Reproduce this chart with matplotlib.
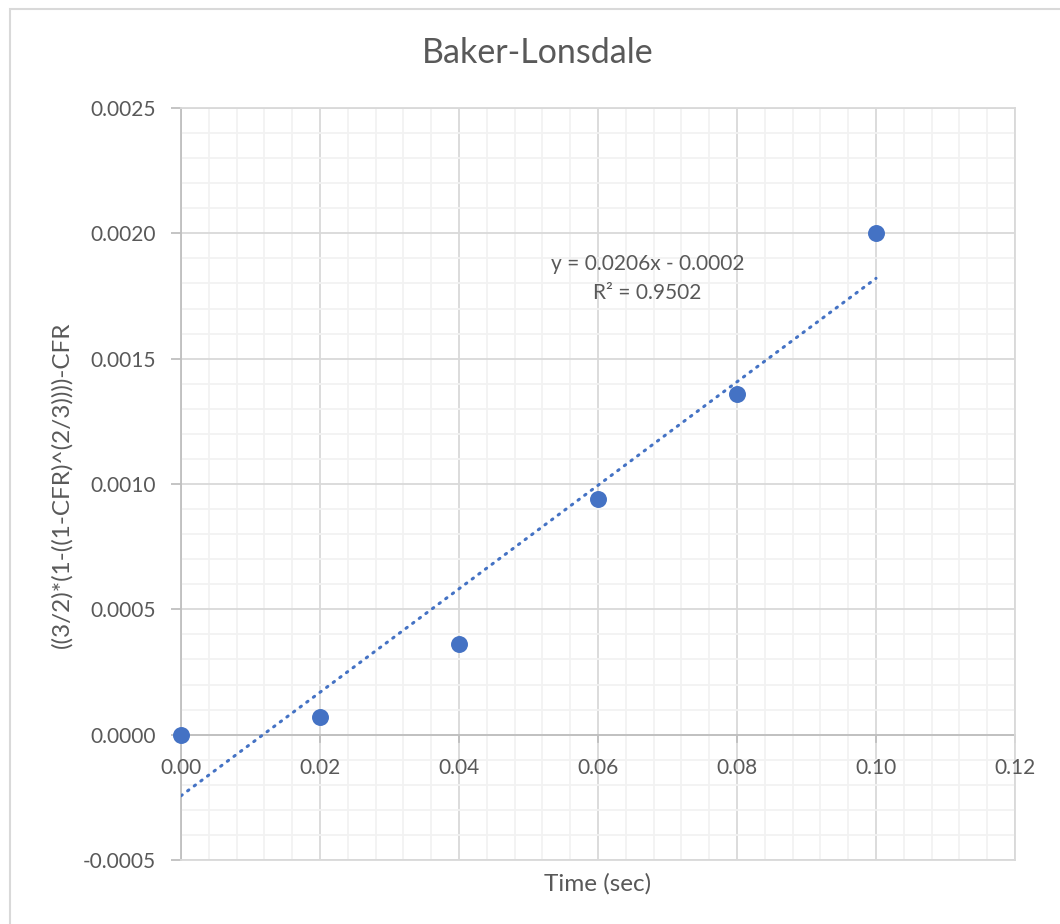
import numpy as np
import matplotlib.pyplot as plt
from matplotlib.patches import Rectangle
from matplotlib.ticker import MultipleLocator

# valori
tempo = [0.00, 0.02, 0.04, 0.06, 0.08, 0.10]
valori = [0.0000, 0.00007, 0.00036, 0.00094, 0.00136, 0.00200]

titolo = "Baker-Lonsdale"
etichetta_x = "Time (sec)"
etichetta_y = "((3/2)*(1-((1-CFR)^(2/3))))-CFR"
equazione = "y = 0.0206x - 0.0002"
r_quadro = "R² = 0.9502"

plt.rcParams['font.family'] = ['Lato', 'DejaVu Sans']
grigio_testo = "#595959"
blu = "#4472C4"
fs = 15

fig = plt.figure(figsize=(10.6, 9.24), dpi=100)
ax = fig.add_axes([181 / 1060, 1 - 860 / 924, (1015 - 181) / 1060, (860 - 108) / 924])

# bordo esterno del grafico
fig.patches.append(Rectangle((10 / 1060, -0.01), 1.05, 1 - 9 / 924 + 0.01,
                             transform=fig.transFigure, fill=False,
                             edgecolor="#D9D9D9", linewidth=1.5))

ax.set_xlim(0, 0.12)
ax.set_ylim(-0.0005, 0.0025)
ax.xaxis.set_major_locator(MultipleLocator(0.02))
ax.xaxis.set_minor_locator(MultipleLocator(0.004))
ax.yaxis.set_major_locator(MultipleLocator(0.0005))
ax.yaxis.set_minor_locator(MultipleLocator(0.0001))

ax.grid(which="major", color="#D9D9D9", linewidth=1.3)
ax.grid(which="minor", color="#F2F2F2", linewidth=1.3)
ax.set_axisbelow(True)

for lato in ["top", "right", "bottom"]:
    ax.spines[lato].set_color("#D9D9D9")
    ax.spines[lato].set_linewidth(1.3)
ax.spines["left"].set_color("#BFBFBF")
ax.spines["left"].set_linewidth(1.3)

# asse x all'altezza dello zero
ax.axhline(0, color="#BFBFBF", linewidth=1.3, zorder=1)
for xt in np.arange(0, 0.121, 0.02):
    ax.plot([xt, xt], [0, -0.00003], color="#BFBFBF", linewidth=1.3,
            clip_on=False, zorder=1)

ax.tick_params(axis="x", which="both", length=0, pad=0, labelbottom=False)
ax.tick_params(axis="y", which="major", length=7, color="#BFBFBF", width=1.3,
               labelsize=fs, labelcolor=grigio_testo, pad=11)
ax.tick_params(axis="y", which="minor", length=0)
ax.set_yticks(np.arange(-0.0005, 0.00251, 0.0005))
ax.set_yticklabels([f"{v:.4f}" for v in np.arange(-0.0005, 0.00251, 0.0005)])

for xt in np.arange(0, 0.121, 0.02):
    ax.text(xt, -0.000132, f"{xt:.2f}", ha="center", va="center",
            fontsize=fs, color=grigio_testo)

# linea di tendenza
pendenza, intercetta = np.polyfit(tempo, valori, 1)
xs = np.array([0, 0.10])
ax.plot(xs, pendenza * xs + intercetta, color=blu, linewidth=2.2,
        linestyle=(0, (0.5, 2.2)), dash_capstyle="round", zorder=3)

ax.scatter(tempo, valori, s=125, color=blu, zorder=4, clip_on=False)

ax.text(0.0671, 0.001876, equazione, ha="center", va="center",
        fontsize=fs, color=grigio_testo)
ax.text(0.0671, 0.00176, r_quadro, ha="center", va="center",
        fontsize=fs, color=grigio_testo)

fig.text(538 / 1060, 1 - 53 / 924, titolo, ha="center", va="center",
         fontsize=24.5, color=grigio_testo)
fig.text(598 / 1060, 1 - 884 / 924, etichetta_x, ha="center", va="center",
         fontsize=17.5, color=grigio_testo)
fig.text(62 / 1060, 1 - 485 / 924, etichetta_y, ha="center", va="center",
         rotation=90, fontsize=17.5, color=grigio_testo)

fig.savefig("out.png", dpi=100)
